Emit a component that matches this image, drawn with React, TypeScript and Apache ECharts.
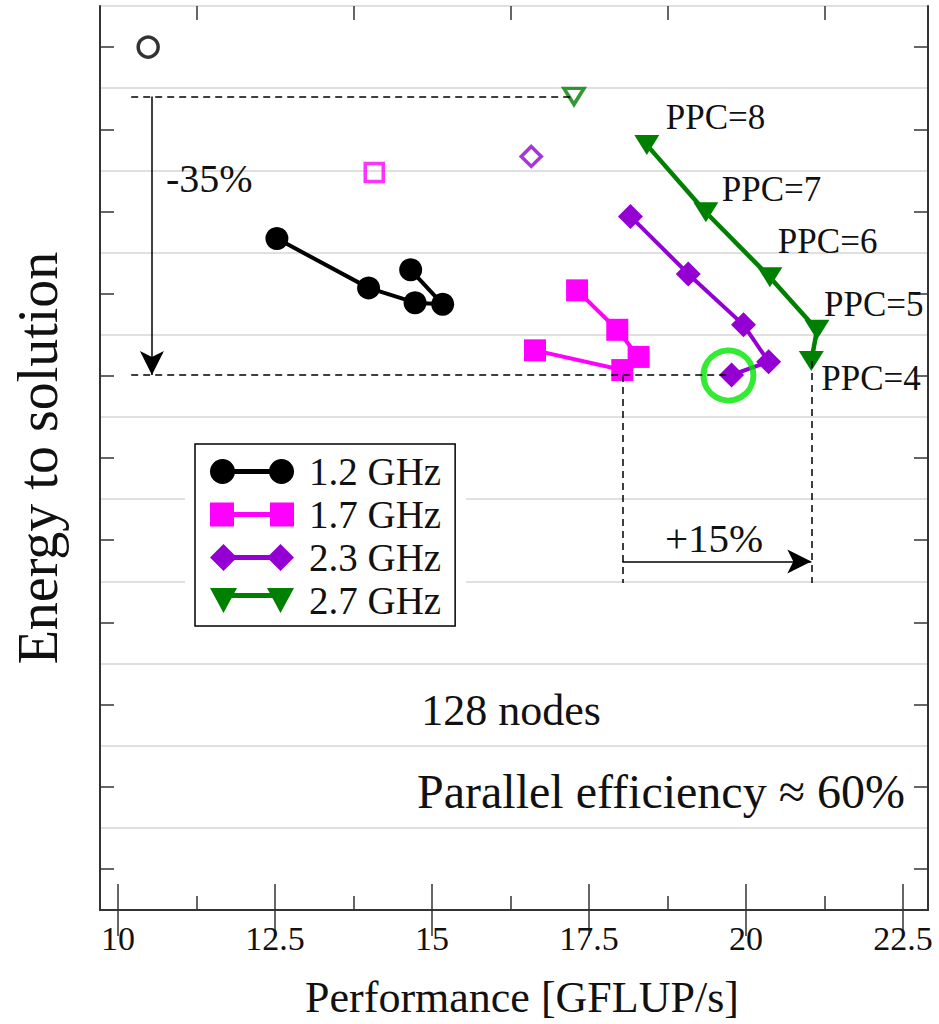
import React, { useEffect, useRef } from "react";
import * as echarts from "echarts";

// ---- data ----
const ppc = [8, 7, 6, 5, 4];
const perf12 = [12.53, 13.99, 14.73, 15.17, 14.66];
const energy12 = [8.17, 7.57, 7.39, 7.37, 7.79];
const perf17 = [17.31, 17.95, 18.29, 18.03, 16.64];
const energy17 = [7.54, 7.06, 6.73, 6.57, 6.81];
const perf23 = [18.16, 19.08, 19.96, 20.36, 19.77];
const energy23 = [8.44, 7.74, 7.12, 6.67, 6.51];
const perf27 = [18.42, 19.36, 20.38, 21.13, 21.04];
const energy27 = [9.31, 8.49, 7.7, 7.06, 6.68];
// reference (open) markers: 1.2, 1.7, 2.3, 2.7 GHz
const refPerf = [10.48, 14.08, 16.58, 17.26];
const refEnergy = [10.5, 8.975, 9.17, 9.9];
const highlight = [19.72, 6.505];
const xMajorTicks = [10, 12.5, 15, 17.5, 20, 22.5];
const xMinorTicks = [11.25, 13.75, 16.25, 18.75, 21.25];
const yTicks = [0.5, 1.5, 2.5, 3.5, 4.5, 5.5, 6.5, 7.5, 8.5, 9.5, 10.5];
const annotLeftX = 10.21;
const arrowX = 10.54;
const arrowY = 4.24;
const dropY = 3.98;

const FONT = "'Liberation Serif', 'Times New Roman', serif";
const pairs = (xs: number[], ys: number[]) => xs.map((x, i) => [x, ys[i]]);

const ppcOffsets = [
  [19, -27],
  [16, -23],
  [8, -36],
  [7, -25],
  [10, 17],
];

const iconCircle =
  "path://M0,12.5A12.5,12.5,0,1,1,25,12.5A12.5,12.5,0,1,1,0,12.5Z M12.5,10L71.5,10L71.5,15L12.5,15Z M59,12.5A12.5,12.5,0,1,1,84,12.5A12.5,12.5,0,1,1,59,12.5Z";
const iconSquare =
  "path://M0,0L24,0L24,24L0,24Z M20,9.5L64,9.5L64,14.5L20,14.5Z M60,0L84,0L84,24L60,24Z";
const iconDiamond =
  "path://M0,13.5L13.5,0L27,13.5L13.5,27Z M13.5,11L70.5,11L70.5,16L13.5,16Z M57,13.5L70.5,0L84,13.5L70.5,27Z";
const iconTriangle =
  "path://M0,0L27,0L13.5,25Z M13.5,5L70.5,5L70.5,10L13.5,10Z M57,0L84,0L70.5,25Z";

const colors = ["#000000", "#ff00ff", "#9400d3", "#008000"];
const names = ["1.2 GHz", "1.7 GHz", "2.3 GHz", "2.7 GHz"];

export default function App() {
  const ref = useRef<HTMLDivElement>(null);
  useEffect(() => {
    document.body.style.margin = "0";
    if (!ref.current) return;
    const chart = echarts.init(ref.current, null, { renderer: "svg" });
    const axisLineStyle = { color: "#333", width: 2 };
    const tickStyle = { color: "#333", width: 1.5 };
    const xBase = {
      type: "value",
      min: 9.713,
      max: 22.898,
      splitLine: { show: false },
      gridIndex: 0,
    };
    const yBase = {
      type: "value",
      min: 0,
      max: 11,
      gridIndex: 0,
    };
    const openSymbols = ["circle", "rect", "diamond", "triangle"];
    const openSizes: any[] = [20, 18, 20, [20, 16]];
    const option: any = {
      animation: false,
      backgroundColor: "#ffffff",
      grid: { left: 100, top: 6, right: 11, bottom: 111, containLabel: false },
      xAxis: [
        {
          ...xBase,
          position: "bottom",
          axisLine: { show: true, lineStyle: axisLineStyle },
          axisTick: { show: true, inside: true, length: 26, customValues: xMajorTicks, lineStyle: tickStyle },
          axisLabel: {
            show: true,
            customValues: xMajorTicks,
            margin: 11,
            fontFamily: FONT,
            fontSize: 34,
            color: "#111",
          },
          name: "Performance [GFLUP/s]",
          nameLocation: "middle",
          nameGap: 65,
          nameTextStyle: { fontFamily: FONT, fontSize: 44, color: "#111", padding: [0, 0, 0, 16] },
        },
        {
          ...xBase,
          position: "bottom",
          axisLine: { show: false },
          axisTick: { show: true, inside: true, length: 14, customValues: xMinorTicks, lineStyle: tickStyle },
          axisLabel: { show: false },
        },
        {
          ...xBase,
          position: "top",
          axisLine: { show: true, lineStyle: axisLineStyle },
          axisTick: { show: true, inside: true, length: 26, customValues: xMajorTicks, lineStyle: tickStyle },
          axisLabel: { show: false },
        },
        {
          ...xBase,
          position: "top",
          axisLine: { show: false },
          axisTick: { show: true, inside: true, length: 14, customValues: xMinorTicks, lineStyle: tickStyle },
          axisLabel: { show: false },
        },
      ],
      yAxis: [
        {
          ...yBase,
          interval: 1,
          position: "left",
          axisLine: { show: true, lineStyle: axisLineStyle },
          axisTick: { show: false },
          axisLabel: { show: false },
          splitLine: { show: true, lineStyle: { color: "#e0e0e0", width: 2 } },
          name: "Energy to solution",
          nameLocation: "middle",
          nameGap: 34,
          nameTextStyle: { fontFamily: FONT, fontSize: 56, color: "#111" },
        },
        {
          ...yBase,
          position: "left",
          axisLine: { show: false },
          axisTick: { show: true, inside: true, length: 14, customValues: yTicks, lineStyle: tickStyle },
          axisLabel: { show: false },
          splitLine: { show: false },
        },
        {
          ...yBase,
          position: "right",
          axisLine: { show: true, lineStyle: axisLineStyle },
          axisTick: { show: true, inside: true, length: 14, customValues: yTicks, lineStyle: tickStyle },
          axisLabel: { show: false },
          splitLine: { show: false },
        },
      ],
      legend: {
        orient: "vertical",
        left: 195,
        top: 444,
        padding: [8, 14, 6, 15],
        borderColor: "#000",
        borderWidth: 1.5,
        backgroundColor: "#fff",
        itemWidth: 84,
        itemHeight: 27,
        itemGap: 4,
        selectedMode: false,
        textStyle: { fontFamily: FONT, fontSize: 39, color: "#111", padding: [0, 0, 0, 10], lineHeight: 39 },
        data: [
          { name: names[0], icon: iconCircle },
          { name: names[1], icon: iconSquare },
          { name: names[2], icon: iconDiamond },
          { name: names[3], icon: iconTriangle },
        ],
      },
      series: [
        {
          type: "line",
          name: names[0],
          data: pairs(perf12, energy12),
          symbol: "circle",
          symbolSize: 23,
          itemStyle: { color: colors[0] },
          lineStyle: { color: colors[0], width: 4 },
          z: 3,
        },
        {
          type: "line",
          name: names[1],
          data: pairs(perf17, energy17),
          symbol: "rect",
          symbolSize: 22,
          itemStyle: { color: colors[1] },
          lineStyle: { color: colors[1], width: 4 },
          z: 3,
        },
        {
          type: "line",
          name: names[2],
          data: pairs(perf23, energy23),
          symbol: "diamond",
          symbolSize: 25,
          itemStyle: { color: colors[2] },
          lineStyle: { color: colors[2], width: 4 },
          z: 3,
        },
        {
          type: "line",
          name: names[3],
          data: perf27.map((x, i) => ({
            value: [x, energy27[i]],
            label: { show: true, formatter: "PPC=" + ppc[i], offset: ppcOffsets[i] },
          })),
          symbol: "triangle",
          symbolRotate: 180,
          symbolSize: [25, 20],
          itemStyle: { color: colors[3] },
          lineStyle: { color: colors[3], width: 4.5 },
          label: {
            position: "inside",
            align: "left",
            verticalAlign: "middle",
            fontFamily: FONT,
            fontSize: 35,
            color: "#111",
          },
          z: 3,
        },
        ...names.map((n, i) => ({
          type: "scatter",
          name: n,
          data: [[refPerf[i], refEnergy[i]]],
          symbol: openSymbols[i],
          symbolRotate: i === 3 ? 180 : 0,
          symbolSize: openSizes[i],
          itemStyle: { color: "rgba(255,255,255,0)", borderColor: colors[i], borderWidth: 3.5 },
          z: 3,
        })),
        {
          type: "scatter",
          name: "highlight",
          data: [highlight],
          symbol: "circle",
          symbolSize: 50,
          itemStyle: { color: "rgba(255,255,255,0)", borderColor: "#00e600", borderWidth: 6 },
          z: 4,
          markLine: {
            silent: true,
            symbol: ["none", "none"],
            label: { show: false },
            lineStyle: { color: "#000", width: 1.5, type: [7, 5] },
            data: [
              [{ coord: [annotLeftX, refEnergy[3]] }, { coord: [refPerf[3], refEnergy[3]] }],
              [{ coord: [annotLeftX, energy23[4]] }, { coord: [perf23[4], energy23[4]] }],
              [{ coord: [perf17[3], energy23[4]] }, { coord: [perf17[3], dropY] }],
              [{ coord: [perf27[4], energy27[4]] }, { coord: [perf27[4], dropY] }],
              [
                { coord: [arrowX, refEnergy[3]], lineStyle: { type: "solid", width: 1.5, color: "#000" } },
                { coord: [arrowX, energy23[4]], symbol: "arrow", symbolSize: [18, 24] },
              ],
              [
                { coord: [perf17[3], arrowY], lineStyle: { type: "solid", width: 1.5, color: "#000" } },
                { coord: [perf27[4], arrowY], symbol: "arrow", symbolSize: [18, 24] },
              ],
            ],
          },
        },
      ],
      graphic: [
        { type: "rect", z: 1, shape: { x: 185, y: 440, width: 281, height: 193 }, style: { fill: "#fff" } },
        {
          type: "text",
          z: 10,
          x: 166,
          y: 178,
          style: { text: "-35%", fontFamily: FONT, fontSize: 40, fill: "#111", align: "left", verticalAlign: "middle" },
        },
        {
          type: "text",
          z: 10,
          x: 665,
          y: 538,
          style: { text: "+15%", fontFamily: FONT, fontSize: 41, fill: "#111", align: "left", verticalAlign: "middle" },
        },
        {
          type: "text",
          z: 10,
          x: 511,
          y: 710,
          style: { text: "128 nodes", fontFamily: FONT, fontSize: 44, fill: "#111", align: "center", verticalAlign: "middle" },
        },
        {
          type: "text",
          z: 10,
          x: 661,
          y: 791,
          style: {
            text: "Parallel efficiency ≈ 60%",
            fontFamily: FONT,
            fontSize: 48,
            fill: "#111",
            align: "center",
            verticalAlign: "middle",
          },
        },
      ],
    };
    chart.setOption(option);
    return () => chart.dispose();
  }, []);
  return <div ref={ref} style={{ width: 939, height: 1024 }} />;
}
